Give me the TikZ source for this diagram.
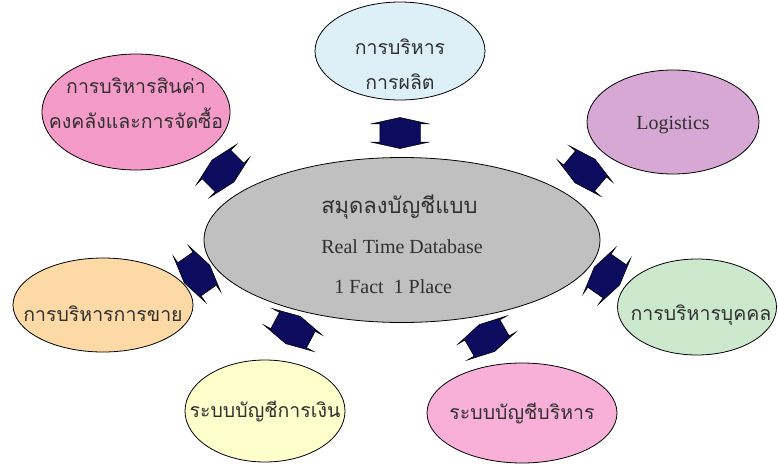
\documentclass[tikz,border=0pt]{standalone}
\usepackage{fontspec}
\setmainfont{Liberation Serif}
\newfontfamily\thaifont[Script=Thai]{Loma}
\usetikzlibrary{shapes.geometric,shapes.arrows}
\definecolor{inkgray}{HTML}{303030}
\definecolor{arrownavy}{HTML}{0D0B5E}
\definecolor{dbgray}{HTML}{C0C0C0}
\definecolor{prodblue}{HTML}{DDF0F8}
\definecolor{stockpink}{HTML}{F59BC9}
\definecolor{logpurple}{HTML}{D8A8D5}
\definecolor{salesorange}{HTML}{FDD9A6}
\definecolor{finyellow}{HTML}{FFFFCC}
\definecolor{mgmtpink}{HTML}{F8B0D8}
\definecolor{hrgreen}{HTML}{CDE9CD}
% strut that lifts the top (#1) or drops the bottom (#2) of a label
\newcommand{\padtext}[2]{\rule[-#2]{0pt}{#1}}

\begin{document}
\begin{tikzpicture}[x=1pt,y=-1pt,
    bubble/.style={ellipse, draw=black, line width=0.8pt, inner xsep=-80pt, inner ysep=-30pt,
        align=center, text=inkgray, font=\thaifont\fontsize{19.5}{35}\selectfont},
    twoway/.style={double arrow, draw=black, line width=0.5pt, fill=arrownavy,
        inner xsep=0pt, inner ysep=20pt, minimum height=31pt,
        double arrow head extend=8pt, double arrow tip angle=155}]
\useasboundingbox (0,0) rectangle (778,466);
% centre
\node[bubble, fill=dbgray, minimum width=396pt, minimum height=165pt, align=left,
    font=\fontsize{20}{40}\selectfont] (db) at (402,240)
    {\padtext{28pt}{0pt}{\thaifont\fontsize{22}{40}\selectfont สมุดลงบัญชีแบบ}\\
     Real Time Database\\
     \hspace{13pt}1 Fact\ \ 1 Place};
% systems round it
\node[bubble, fill=prodblue, minimum width=170pt, minimum height=98pt] (prod) at (400,51)
    {\padtext{42pt}{0pt}การบริหาร\\การผลิต};
\node[bubble, fill=stockpink, minimum width=188pt, minimum height=116pt] (stock) at (136,112)
    {การบริหารสินค่า\\คงคลังและการจัดซื้อ\padtext{0pt}{18pt}};
\node[bubble, fill=logpurple, minimum width=172pt, minimum height=104pt,
    font=\fontsize{20}{24}\selectfont] (logi) at (673,122) {\padtext{20pt}{0pt}Logistics};
\node[bubble, fill=salesorange, minimum width=180pt, minimum height=94pt] (sales) at (103,305)
    {\padtext{34pt}{0pt}การบริหารการขาย};
\node[bubble, fill=finyellow, minimum width=160pt, minimum height=102pt] (fin) at (265,411)
    {ระบบบัญชีการเงิน};
\node[bubble, fill=mgmtpink, minimum width=190pt, minimum height=100pt] (mgmt) at (522,413)
    {ระบบบัญชีบริหาร};
\node[bubble, fill=hrgreen, minimum width=159pt, minimum height=96pt] (hr) at (697,307)
    {\padtext{32pt}{0pt}\hspace{8pt}การบริหารบุคคล};
% two-way links
\foreach \x/\y/\a [count=\i] in {400/133/90, 223/171/-45, 585/171/50, 197/274/35,
    607/276/-35, 293/330/62, 487/338/-60}
    \node[twoway, rotate=\a] (link\i) at (\x,\y) {};
\end{tikzpicture}
\end{document}
